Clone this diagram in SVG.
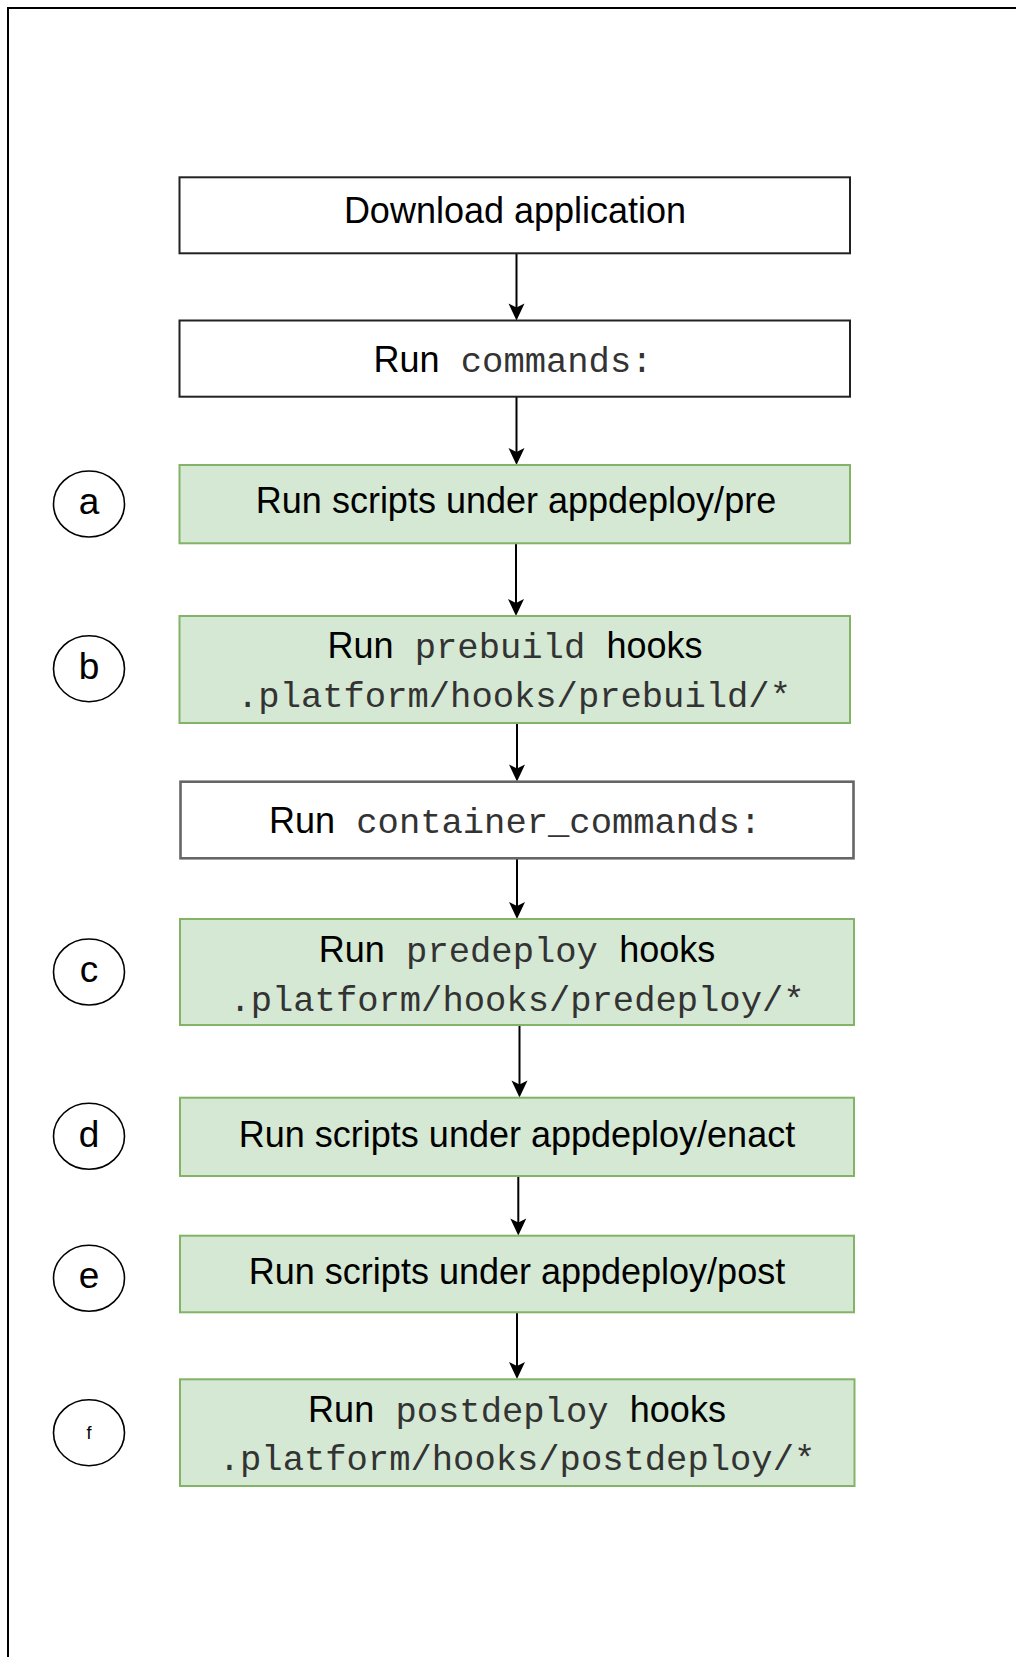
<svg xmlns="http://www.w3.org/2000/svg" width="1016" height="1657" viewBox="0 0 1016 1657">
  <style>
    .sans { font-family: "Liberation Sans", Arial, sans-serif; font-size: 36px; fill: #000; }
    .mono { font-family: "Liberation Mono", "Courier New", monospace; font-size: 35.5px; fill: #333; }
    .box { fill: #fff; stroke: #222; stroke-width: 2; }
    .box2 { fill: #fff; stroke: #666; stroke-width: 2.6; }
    .green { fill: #d5e8d4; stroke: #82b366; stroke-width: 2; }
    .step { fill: #fff; stroke: #000; stroke-width: 1.6; }
    .lbl { font-family: "Liberation Sans", Arial, sans-serif; font-size: 37px; fill: #000; text-anchor: middle; }
    .edge { stroke: #000; stroke-width: 2; fill: none; }
    .head { fill: #000; stroke: none; }
  </style>

  <path id="frame" d="M1016,8 H8 V1657" fill="none" stroke="#000" stroke-width="2"/>

  <g id="connectors">
    <line class="edge" x1="516.5" y1="253" x2="516.5" y2="308"/>
    <path class="head" d="M516.5,320.5 L508.5,303.5 L516.5,307.5 L524.5,303.5 Z"/>
    <line class="edge" x1="516.5" y1="397" x2="516.5" y2="452"/>
    <path class="head" d="M516.5,465 L508.5,448 L516.5,452 L524.5,448 Z"/>
    <line class="edge" x1="516" y1="543.5" x2="516" y2="603"/>
    <path class="head" d="M516,616 L508,599 L516,603 L524,599 Z"/>
    <line class="edge" x1="517" y1="723" x2="517" y2="769"/>
    <path class="head" d="M517,781.5 L509,764.5 L517,768.5 L525,764.5 Z"/>
    <line class="edge" x1="517" y1="858.5" x2="517" y2="906"/>
    <path class="head" d="M517,919 L509,902 L517,906 L525,902 Z"/>
    <line class="edge" x1="519.5" y1="1025" x2="519.5" y2="1085"/>
    <path class="head" d="M519.5,1097.5 L511.5,1080.5 L519.5,1084.5 L527.5,1080.5 Z"/>
    <line class="edge" x1="518.3" y1="1176" x2="518.3" y2="1223"/>
    <path class="head" d="M518.3,1235.5 L510.3,1218.5 L518.3,1222.5 L526.3,1218.5 Z"/>
    <line class="edge" x1="517" y1="1312.5" x2="517" y2="1366"/>
    <path class="head" d="M517,1379 L509,1362 L517,1366 L525,1362 Z"/>
  </g>

  <g id="download">
    <rect class="box" x="179.5" y="177.3" width="670.5" height="76"/>
    <text class="sans" x="515" y="223" text-anchor="middle">Download application</text>
  </g>

  <g id="commands">
    <rect class="box" x="179.5" y="320.5" width="670.5" height="76.2"/>
    <text x="513" y="371.5" text-anchor="middle"><tspan class="sans">Run</tspan><tspan class="mono"> commands:</tspan></text>
  </g>

  <g id="pre">
    <rect class="green" x="179.5" y="465" width="670.5" height="78.3"/>
    <text class="sans" x="516" y="513.3" text-anchor="middle">Run scripts under appdeploy/pre</text>
  </g>

  <g id="prebuild">
    <rect class="green" x="179.5" y="616" width="670.5" height="107"/>
    <text x="515" y="658.3" text-anchor="middle"><tspan class="sans">Run</tspan><tspan class="mono"> prebuild </tspan><tspan class="sans">hooks</tspan></text>
    <text class="mono" x="514" y="707.3" text-anchor="middle">.platform/hooks/prebuild/*</text>
  </g>

  <g id="container">
    <rect class="box2" x="180.5" y="781.7" width="673" height="76.6"/>
    <text x="515" y="833" text-anchor="middle"><tspan class="sans">Run</tspan><tspan class="mono"> container_commands:</tspan></text>
  </g>

  <g id="predeploy">
    <rect class="green" x="180" y="919" width="674" height="106"/>
    <text x="517" y="961.5" text-anchor="middle"><tspan class="sans">Run</tspan><tspan class="mono"> predeploy </tspan><tspan class="sans">hooks</tspan></text>
    <text class="mono" x="517" y="1010.5" text-anchor="middle">.platform/hooks/predeploy/*</text>
  </g>

  <g id="enact">
    <rect class="green" x="180" y="1097.7" width="674" height="78.3"/>
    <text class="sans" x="517" y="1146.5" text-anchor="middle">Run scripts under appdeploy/enact</text>
  </g>

  <g id="post">
    <rect class="green" x="180" y="1235.7" width="674" height="76.6"/>
    <text class="sans" x="517" y="1283.5" text-anchor="middle">Run scripts under appdeploy/post</text>
  </g>

  <g id="postdeploy">
    <rect class="green" x="180" y="1379.3" width="674.5" height="106.7"/>
    <text x="517" y="1421.7" text-anchor="middle"><tspan class="sans">Run</tspan><tspan class="mono"> postdeploy </tspan><tspan class="sans">hooks</tspan></text>
    <text class="mono" x="517" y="1470" text-anchor="middle">.platform/hooks/postdeploy/*</text>
  </g>

  <g id="step-a">
    <ellipse class="step" cx="89" cy="504" rx="35.5" ry="33"/>
    <text class="lbl" x="89" y="513.5">a</text>
  </g>
  <g id="step-b">
    <ellipse class="step" cx="89" cy="668.7" rx="35.5" ry="33"/>
    <text class="lbl" x="89" y="679">b</text>
  </g>
  <g id="step-c">
    <ellipse class="step" cx="89" cy="972" rx="35.5" ry="33"/>
    <text class="lbl" x="89" y="981.5">c</text>
  </g>
  <g id="step-d">
    <ellipse class="step" cx="89" cy="1136.3" rx="35.5" ry="33"/>
    <text class="lbl" x="89" y="1146.7">d</text>
  </g>
  <g id="step-e">
    <ellipse class="step" cx="89" cy="1278.3" rx="35.5" ry="33"/>
    <text class="lbl" x="89" y="1288">e</text>
  </g>
  <g id="step-f">
    <ellipse class="step" cx="89" cy="1432.7" rx="35.5" ry="33"/>
    <text class="lbl" x="89" y="1439" style="font-size:18px">f</text>
  </g>
</svg>
